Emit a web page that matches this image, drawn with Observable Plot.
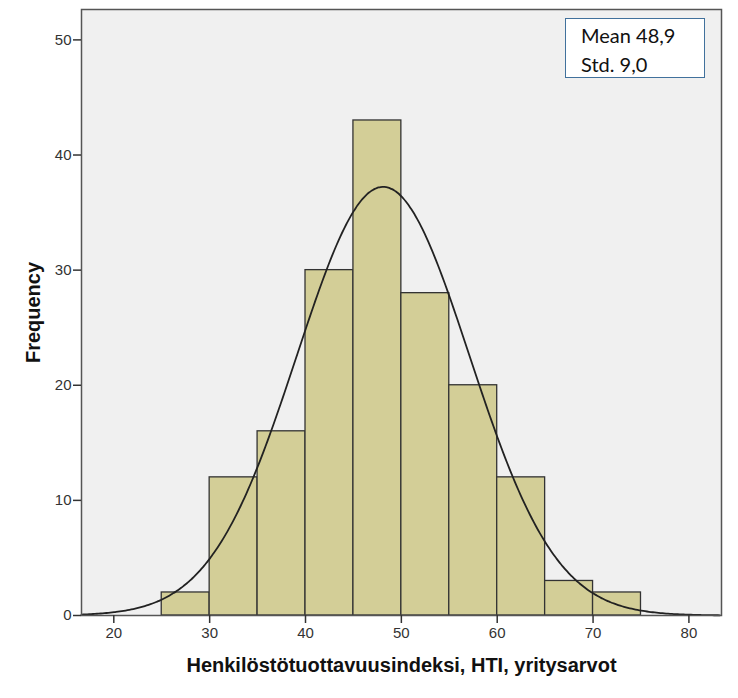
<!DOCTYPE html>
<html>
<head>
<meta charset="utf-8">
<script src="https://cdn.jsdelivr.net/npm/d3@7"></script>
<script src="https://cdn.jsdelivr.net/npm/@observablehq/plot@0.6"></script>
<style>
  html, body { margin: 0; padding: 0; background: #fff; }
  #wrap { position: relative; width: 738px; height: 698px; }
  #legend {
    position: absolute; left: 565px; top: 18px; width: 140px; height: 60px;
    background: #fff; border: 1.5px solid #41719c;
    font-family: Lato, "Open Sans", sans-serif; font-size: 20px; color: #111;
    line-height: 29px; padding: 2px 0 0 15px; box-sizing: border-box;
  }
</style>
</head>
<body>
<div id="wrap"></div>
<script>
// ---- data ----
const binStarts = [25, 30, 35, 40, 45, 50, 55, 60, 65, 70];
const binWidth = 5;
const counts = [2, 12, 16, 30, 43, 28, 20, 12, 3, 2];
const xTicks = [20, 30, 40, 50, 60, 70, 80];
const yTicks = [0, 10, 20, 30, 40, 50];
const statLabels = ["Mean 48,9", "Std. 9,0"];
const xTitle = "Henkilöstötuottavuusindeksi, HTI, yritysarvot";
const yTitle = "Frequency";
// fitted normal curve parameters (curve centre as seen in the picture)
const curveMean = 48.1;
const curveSd = 9.0;

const bins = binStarts.map((s, i) => ({x1: s, x2: s + binWidth, count: counts[i]}));
const total = d3.sum(counts);
const xDomain = [16.63, 83.4];
const curve = d3.range(xDomain[0], xDomain[1] + 0.001, 0.2).map(x => ({
  x,
  y: total * binWidth * Math.exp(-0.5 * ((x - curveMean) / curveSd) ** 2) / (curveSd * Math.sqrt(2 * Math.PI))
}));

const chart = Plot.plot({
  width: 738,
  height: 698,
  marginLeft: 81,
  marginRight: 17,
  marginTop: 9,
  marginBottom: 83,
  style: {fontFamily: "'Liberation Sans', Arial, sans-serif", fontSize: "15px", color: "#333", background: "#fff"},
  x: {domain: xDomain},
  y: {domain: [0, 52.64]},
  marks: [
    Plot.frame({fill: "#f0f0f0", stroke: null}),
    Plot.rect(bins, {x1: "x1", x2: "x2", y1: 0, y2: "count", fill: "#d3ce97", stroke: "#333", strokeWidth: 1.3}),
    Plot.line(curve, {x: "x", y: "y", stroke: "#222", strokeWidth: 1.8, curve: "basis"}),
    Plot.frame({stroke: "#555", strokeWidth: 1.5}),
    Plot.axisY({ticks: yTicks, tickSize: 8, tickPadding: 2, label: null, fontSize: 15, stroke: "#333", strokeWidth: 1.5}),
    Plot.axisX({ticks: xTicks, tickSize: 8, tickPadding: 4, label: null, fontSize: 15, stroke: "#333", strokeWidth: 1.5}),
    Plot.text([yTitle], {frameAnchor: "left", dx: -48, rotate: -90, textAnchor: "middle", fontSize: 20, fontWeight: "bold", fill: "#111"}),
    Plot.text([xTitle], {frameAnchor: "bottom", dy: 50, textAnchor: "middle", lineAnchor: "middle", fontSize: 20, fontWeight: "bold", fill: "#111"})
  ]
});

const wrap = document.getElementById("wrap");
wrap.appendChild(chart);
const legend = document.createElement("div");
legend.id = "legend";
legend.innerHTML = statLabels.map(s => `<div>${s}</div>`).join("");
wrap.appendChild(legend);
</script>
</body>
</html>
